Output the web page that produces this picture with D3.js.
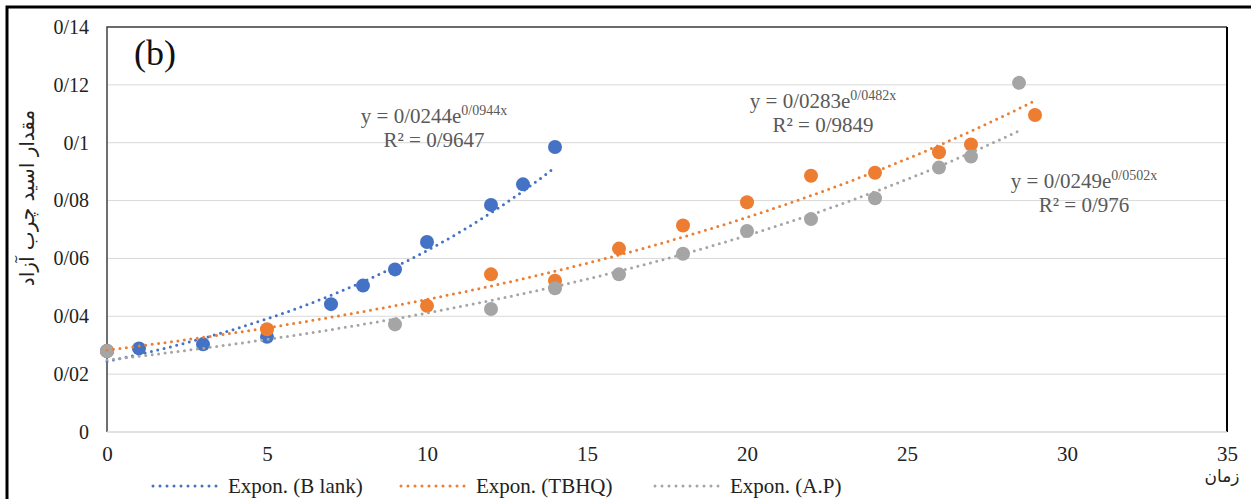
<!DOCTYPE html>
<html>
<head>
<meta charset="utf-8">
<script src="https://cdn.jsdelivr.net/npm/d3@7"></script>
<style>
  body { margin: 0; background: #fff; }
</style>
</head>
<body>
<div id="container"></div>
<script>
/**
 * DATA
 * */
const blankX = [0, 1, 3, 5, 7, 8, 9, 10, 12, 13, 14];
const blankY = [0.028, 0.0289, 0.0303, 0.0329, 0.0442, 0.0506, 0.0562, 0.0657, 0.0785, 0.0856, 0.0985];

const tbhqX = [0, 5, 10, 12, 14, 16, 18, 20, 22, 24, 26, 27, 29];
const tbhqY = [0.028, 0.0355, 0.0436, 0.0545, 0.0523, 0.0634, 0.0714, 0.0794, 0.0886, 0.0896, 0.0967, 0.0994, 0.1096];

const apX = [0, 9, 12, 14, 16, 18, 20, 22, 24, 26, 27, 28.5];
const apY = [0.028, 0.0372, 0.0425, 0.0497, 0.0545, 0.0616, 0.0695, 0.0736, 0.0808, 0.0914, 0.0952, 0.1207];

// exponential trendlines y = a * e^(b x), as printed on the chart
const seriesNames = ["Blank", "TBHQ", "A.P"];
const trendA = [0.0244, 0.0283, 0.0249];
const trendB = [0.0944, 0.0482, 0.0502];
const trendEnd = [14, 29, 28.5];
const eqMain = ["y = 0/0244e", "y = 0/0283e", "y = 0/0249e"];
const eqExp = ["0/0944x", "0/0482x", "0/0502x"];
const eqR2 = ["R\u00B2 = 0/9647", "R\u00B2 = 0/9849", "R\u00B2 = 0/976"];

const xTicks = [0, 5, 10, 15, 20, 25, 30, 35];
const yTicks = [0, 0.02, 0.04, 0.06, 0.08, 0.1, 0.12, 0.14];
const yTickLabels = ["0", "0/02", "0/04", "0/06", "0/08", "0/1", "0/12", "0/14"];

const xTitle = "زمان";
const yTitle = "مقدار اسید چرب آزاد";
const panelLabel = "(b)";

/**
 * CONSTANTS
 * */
const width = 1251,
  height = 499,
  plot = { left: 107, right: 1227, top: 27, bottom: 432 };
const colors = ["#4472C4", "#ED7D31", "#A5A5A5"];
const serif = '"Liberation Serif", "Times New Roman", serif';
const arabic = '"DejaVu Sans", sans-serif';
// equation label centres (pixels)
const eqPos = [
  { x: 434, y: 123 },
  { x: 823, y: 108 },
  { x: 1084, y: 188 },
];

const svg = d3
  .select("#container")
  .append("svg")
  .attr("width", width)
  .attr("height", height);

const x = d3.scaleLinear().domain([0, 35]).range([plot.left, plot.right]);
const y = d3.scaleLinear().domain([0, 0.14]).range([plot.bottom, plot.top]);

// outer frame (left and top edges are visible)
svg.append("path")
  .attr("d", "M7,499V7H1251")
  .attr("fill", "none")
  .attr("stroke", "#000")
  .attr("stroke-width", 3);

// gridlines
svg.append("g")
  .selectAll("line")
  .data(yTicks.slice(1))
  .join("line")
  .attr("x1", plot.left).attr("x2", plot.right)
  .attr("y1", (d) => y(d)).attr("y2", (d) => y(d))
  .attr("stroke", "#d9d9d9")
  .attr("stroke-width", 1);

// plot area border
svg.append("path")
  .attr("d", `M${plot.left},${plot.bottom}V${plot.top}H${plot.right}`)
  .attr("fill", "none")
  .attr("stroke", "#404040")
  .attr("stroke-width", 1.5);
svg.append("line")
  .attr("x1", plot.right).attr("x2", plot.right)
  .attr("y1", plot.top).attr("y2", plot.bottom)
  .attr("stroke", "#000")
  .attr("stroke-width", 2);
svg.append("line")
  .attr("x1", plot.left).attr("x2", plot.right)
  .attr("y1", plot.bottom).attr("y2", plot.bottom)
  .attr("stroke", "#d9d9d9")
  .attr("stroke-width", 1.5);

// axes (labels only, Excel style)
const yAxis = svg.append("g")
  .attr("transform", `translate(${plot.left - 18},0)`)
  .call(d3.axisLeft(y).tickValues(yTicks).tickSize(0).tickFormat((d, i) => yTickLabels[i]));
yAxis.select(".domain").remove();
yAxis.selectAll("text")
  .attr("x", 0)
  .attr("font-size", 20)
  .attr("fill", "#222")
  .attr("font-family", serif);

const xAxis = svg.append("g")
  .attr("transform", `translate(0,${plot.bottom})`)
  .call(d3.axisBottom(x).tickValues(xTicks).tickSize(0));
xAxis.select(".domain").remove();
xAxis.selectAll("text")
  .attr("y", 14)
  .attr("dy", "0.71em")
  .attr("font-size", 21)
  .attr("fill", "#222")
  .attr("font-family", serif);

// axis titles
svg.append("text")
  .attr("x", 1222).attr("y", 482)
  .attr("text-anchor", "middle")
  .attr("font-size", 17)
  .attr("fill", "#222")
  .attr("font-family", arabic)
  .text(xTitle);

svg.append("text")
  .attr("transform", "translate(34,198) rotate(-90)")
  .attr("text-anchor", "middle")
  .attr("font-size", 20)
  .attr("fill", "#222")
  .attr("font-family", arabic)
  .text(yTitle);

svg.append("text")
  .attr("x", 134).attr("y", 65)
  .attr("font-size", 36)
  .attr("fill", "#111")
  .attr("font-family", serif)
  .text(panelLabel);

// markers
const seriesX = [blankX, tbhqX, apX];
const seriesY = [blankY, tbhqY, apY];
seriesX.forEach((xs, s) => {
  svg.append("g")
    .selectAll("circle")
    .data(xs.map((v, i) => [v, seriesY[s][i]]))
    .join("circle")
    .attr("cx", (d) => x(d[0]))
    .attr("cy", (d) => y(d[1]))
    .attr("r", 7)
    .attr("fill", colors[s]);
});

// trendlines
const line = d3.line().x((d) => x(d[0])).y((d) => y(d[1]));
trendA.forEach((a, s) => {
  const pts = d3.range(0, trendEnd[s] + 0.001, 0.25).map((t) => [t, a * Math.exp(trendB[s] * t)]);
  svg.append("path")
    .attr("d", line(pts))
    .attr("fill", "none")
    .attr("stroke", colors[s])
    .attr("stroke-width", 3)
    .attr("stroke-linecap", "round")
    .attr("stroke-dasharray", "0 6.5");
});

// equation labels
eqPos.forEach((p, s) => {
  const t = svg.append("text")
    .attr("x", p.x).attr("y", p.y)
    .attr("text-anchor", "middle")
    .attr("font-size", 21)
    .attr("fill", "#595959")
    .attr("font-family", serif);
  t.append("tspan").text(eqMain[s]);
  t.append("tspan").attr("font-size", 14).attr("dy", -8).text(eqExp[s]);
  svg.append("text")
    .attr("x", p.x).attr("y", p.y + 24)
    .attr("text-anchor", "middle")
    .attr("font-size", 21)
    .attr("fill", "#595959")
    .attr("font-family", serif)
    .text(eqR2[s]);
});

// legend
const legendX = [153, 401, 655];
const legend = svg.append("g")
  .selectAll("g")
  .data(seriesNames)
  .join("g")
  .attr("transform", (d, i) => `translate(${legendX[i]},486)`);
legend.append("line")
  .attr("x1", 0).attr("x2", 64)
  .attr("stroke", (d, i) => colors[i])
  .attr("stroke-width", 3)
  .attr("stroke-linecap", "round")
  .attr("stroke-dasharray", "0 7");
legend.append("text")
  .attr("x", 75).attr("y", 0)
  .attr("dy", "0.35em")
  .attr("font-size", 21)
  .attr("fill", "#222")
  .attr("font-family", serif)
  .text((d) => (d === "Blank" ? "Expon. (B lank)" : `Expon. (${d})`));
</script>
</body>
</html>
